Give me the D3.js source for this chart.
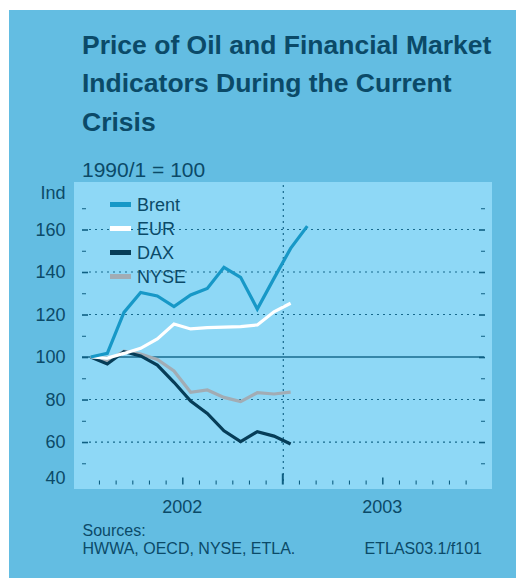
<!DOCTYPE html>
<html><head><meta charset="utf-8">
<script src="https://cdn.jsdelivr.net/npm/d3@7"></script>
<style>
html,body{margin:0;padding:0;background:#fff;}
svg{display:block;font-family:"Liberation Sans",Arial,sans-serif;}
</style></head>
<body>
<script>
// ---- data ----
const months = ["2002-01","2002-02","2002-03","2002-04","2002-05","2002-06","2002-07","2002-08","2002-09","2002-10","2002-11","2002-12","2003-01","2003-02"];
const brent = [100,101.7,121,130.4,128.7,123.7,129.2,132.3,142.2,137.5,122.6,137,151.1,161.6];
const eur   = [100,99.5,101.7,104.1,108.5,115.5,113.2,113.8,114.1,114.3,115.1,121.3,125.3];
const dax   = [100,96.7,102.5,100.5,96.2,88.1,79.3,73.5,65.3,60.2,64.9,62.8,59.1];
const nyse  = [100,97.8,102.8,101.4,98.9,93.4,83.4,84.5,81.0,79.0,83.2,82.6,83.5];
const yTickLabels = [40,60,80,100,120,140,160];
const yMinorTicks = [50,70,90,110,130,150,170];
const gridValues = [60,80,120,140,160];
const yearLabels = ["2002","2003"];
const seriesNames = ["Brent","EUR","DAX","NYSE"];
const seriesColors = ["#1798c7","#ffffff","#063d58","#a2acb4"];

const W=516,H=578;
const textCol="#0b4a68";
const svg=d3.select("body").append("svg").attr("width",W).attr("height",H);
svg.append("rect").attr("x",9).attr("y",10).attr("width",W-9).attr("height",H-10).attr("fill","#63bde2");

// plot area
const P={l:74,t:182,r:492,b:489};
svg.append("rect").attr("x",P.l).attr("y",P.t).attr("width",P.r-P.l).attr("height",P.b-P.t).attr("fill","#8ed8f6");

const x=d3.scaleLinear().domain([0,24]).range([82.3,482.3]);
const y=d3.scaleLinear().domain([37.9,182.35]).range([P.b,P.t]);

// title
const title=["Price of Oil and Financial Market","Indicators During the Current","Crisis"];
svg.append("g").selectAll("text").data(title).join("text")
  .attr("x",82).attr("y",(d,i)=>53.5+i*38.5)
  .attr("font-size",26.5).attr("font-weight","bold").attr("fill",textCol).text(d=>d);
svg.append("text").attr("x",82).attr("y",176.5).attr("font-size",21).attr("fill",textCol).text("1990/1 = 100");

// gridlines
const gridCol="#17698c";
svg.append("g").selectAll("line").data(gridValues).join("line")
  .attr("x1",89).attr("x2",479).attr("y1",d=>y(d)).attr("y2",d=>y(d))
  .attr("stroke",gridCol).attr("stroke-width",1.2).attr("stroke-dasharray","2,4");
svg.append("line").attr("x1",82).attr("x2",484).attr("y1",y(100)).attr("y2",y(100))
  .attr("stroke","#176b8e").attr("stroke-width",1.3);
svg.append("line").attr("x1",x(12)+1).attr("x2",x(12)+1).attr("y1",185).attr("y2",y(40))
  .attr("stroke",gridCol).attr("stroke-width",1.2).attr("stroke-dasharray","2,4");

// y ticks inside (left and right)
function yTicks(g,vals,len,w){
  g.append("g").attr("transform",`translate(82,0)`).call(d3.axisRight(y).tickValues(vals).tickSize(len).tickFormat(""))
   .call(s=>{s.select(".domain").remove();s.selectAll("line").attr("stroke","#0f5f82").attr("stroke-width",w);});
  g.append("g").attr("transform",`translate(485,0)`).call(d3.axisLeft(y).tickValues(vals).tickSize(len).tickFormat(""))
   .call(s=>{s.select(".domain").remove();s.selectAll("line").attr("stroke","#0f5f82").attr("stroke-width",w);});
}
const tg=svg.append("g");
yTicks(tg,yTickLabels.filter(v=>v>40),6,1.6);
yTicks(tg,yMinorTicks,4,1);

// y labels
const yl=svg.append("g").attr("transform","translate(65.5,0)")
  .call(d3.axisLeft(y).tickValues(yTickLabels).tickSize(0).tickPadding(0).tickFormat(d3.format("d")));
yl.select(".domain").remove();
yl.selectAll("text").attr("font-size",18).attr("fill",textCol).attr("font-family","Liberation Sans, Arial, sans-serif")
  .attr("dy",(d)=>d===40?"-0.05em":"0.32em");
svg.append("text").attr("x",65.5).attr("y",193).attr("dy","0.32em").attr("text-anchor","end")
  .attr("font-size",18).attr("fill",textCol).text("Ind");

// x ticks (bottom, pointing up)
const monthTicks=d3.range(1,24);
const xa=svg.append("g").attr("transform",`translate(0,${y(40)})`)
  .call(d3.axisTop(x).tickValues(monthTicks).tickSize(4).tickFormat(""));
xa.select(".domain").remove();
xa.selectAll(".tick line").attr("stroke","#0f5f82")
  .attr("y2",d=>d===12?-11:(d%6===0?-7:-4))
  .attr("stroke-width",d=>d===12?2:(d%6===0?1.5:1.1));

// year labels
svg.append("g").selectAll("text").data(yearLabels).join("text")
  .attr("x",(d,i)=>x(i*12+6)).attr("y",513).attr("text-anchor","middle")
  .attr("font-size",18).attr("fill",textCol).text(d=>d);

// lines
const series=[brent,eur,dax,nyse];
const line=d3.line().x((d,i)=>x(i+0.5)).y(d=>y(d));
const order=[3,2,1,0];
svg.append("g").selectAll("path").data(order).join("path")
  .attr("d",k=>line(series[k])).attr("fill","none")
  .attr("stroke",k=>seriesColors[k]).attr("stroke-width",3.2)
  .attr("stroke-linejoin","miter").attr("stroke-linecap","butt");

// legend
const lg=svg.append("g");
seriesNames.forEach((n,i)=>{
  const yy=204.5+i*24;
  lg.append("line").attr("x1",110).attr("x2",131).attr("y1",yy).attr("y2",yy)
    .attr("stroke",seriesColors[i]).attr("stroke-width",5);
  lg.append("text").attr("x",137).attr("y",yy).attr("dy","0.35em").attr("font-size",18)
    .attr("fill",textCol).text(n);
});

// footer
svg.append("text").attr("x",82.5).attr("y",536).attr("font-size",16).attr("fill",textCol).text("Sources:");
svg.append("text").attr("x",82.5).attr("y",553.5).attr("font-size",16).attr("fill",textCol).text("HWWA, OECD, NYSE, ETLA.");
svg.append("text").attr("x",482).attr("y",553.5).attr("text-anchor","end").attr("font-size",16).attr("fill",textCol).text("ETLAS03.1/f101");
</script>
</body></html>
